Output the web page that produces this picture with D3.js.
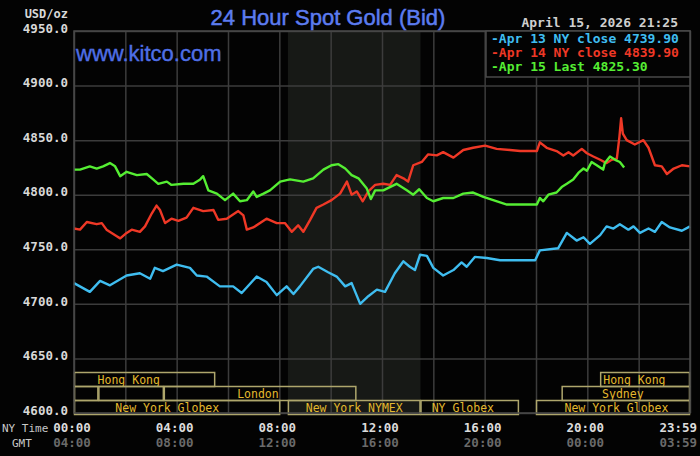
<!DOCTYPE html>
<html>
<head>
<meta charset="utf-8">
<script src="https://cdn.jsdelivr.net/npm/d3@7"></script>
<style>
  body { margin: 0; background: #000; }
  svg { display: block; }
</style>
</head>
<body>
<svg id="drawing_region"></svg>
<script>
// minutes after NY midnight, price in USD/oz
const apr13 = [[0,4719],[37,4711],[61,4721],[84,4717],[123,4726],[154,4728],[178,4723],[189,4733],[208,4730],[240,4736],[271,4733],[287,4726],[310,4725],[341,4716],[372,4716],[392,4710],[427,4725],[450,4720],[474,4708],[497,4716],[513,4709],[528,4716],[559,4732],[571,4734],[594,4729],[614,4725],[634,4716],[649,4719],[669,4700],[688,4707],[708,4713],[727,4711],[750,4728],[770,4739],[785,4734],[797,4731],[809,4745],[825,4744],[840,4733],[863,4726],[887,4731],[906,4738],[918,4734],[937,4743],[965,4742],[996,4740],[1027,4740],[1078,4740],[1089,4749],[1132,4751],[1152,4765],[1175,4758],[1191,4761],[1206,4755],[1230,4763],[1245,4771],[1261,4769],[1276,4773],[1296,4768],[1308,4771],[1323,4765],[1343,4769],[1358,4766],[1374,4775],[1393,4770],[1421,4767],[1440,4771]];

const apr14 = [[0,4769],[14,4768],[30,4775],[53,4773],[65,4774],[76,4768],[100,4762],[108,4760],[123,4765],[135,4768],[154,4766],[166,4771],[182,4783],[193,4790],[201,4786],[213,4774],[228,4778],[244,4776],[263,4779],[279,4788],[302,4785],[326,4786],[337,4777],[357,4778],[384,4785],[396,4781],[404,4768],[419,4770],[450,4778],[474,4774],[493,4774],[509,4766],[524,4772],[536,4766],[552,4777],[567,4788],[583,4791],[602,4795],[622,4801],[638,4812],[649,4800],[661,4803],[675,4794],[688,4803],[704,4809],[723,4810],[739,4809],[754,4818],[770,4815],[781,4812],[793,4827],[813,4830],[828,4837],[848,4836],[863,4839],[887,4834],[910,4841],[933,4843],[961,4845],[988,4842],[1019,4841],[1043,4840],[1082,4840],[1089,4848],[1105,4843],[1128,4840],[1144,4836],[1156,4839],[1167,4836],[1187,4842],[1199,4838],[1214,4835],[1230,4832],[1245,4829],[1257,4832],[1269,4833],[1275,4853],[1279,4870],[1283,4856],[1292,4850],[1311,4846],[1331,4850],[1343,4843],[1358,4827],[1374,4826],[1386,4819],[1402,4824],[1421,4827],[1440,4826]];

const apr15 = [[0,4823],[14,4823],[37,4826],[53,4824],[68,4826],[84,4829],[96,4826],[108,4817],[123,4821],[147,4818],[170,4819],[185,4814],[197,4810],[217,4812],[228,4809],[256,4810],[279,4810],[295,4814],[302,4817],[314,4804],[334,4801],[353,4795],[372,4801],[388,4794],[404,4795],[419,4803],[427,4798],[443,4801],[458,4804],[482,4812],[505,4814],[536,4812],[559,4815],[583,4823],[602,4827],[618,4828],[634,4824],[649,4818],[665,4815],[684,4806],[694,4796],[704,4804],[723,4804],[754,4810],[778,4804],[793,4800],[807,4805],[825,4797],[840,4794],[863,4797],[887,4797],[910,4801],[933,4802],[957,4798],[980,4795],[1012,4791],[1043,4791],[1082,4791],[1089,4797],[1097,4794],[1109,4800],[1128,4802],[1140,4807],[1152,4810],[1167,4814],[1179,4820],[1191,4824],[1199,4822],[1210,4830],[1222,4827],[1237,4823],[1241,4829],[1253,4835],[1265,4832],[1276,4830],[1286,4825]];

const legendLabels = ["Apr 13 NY close 4739.90", "Apr 14 NY close 4839.90", "Apr 15 Last 4825.30"];
const yTicks = [4600, 4650, 4700, 4750, 4800, 4850, 4900, 4950];
const gridMinutes = d3.range(0, 1441, 120);
const nyLabels = [[0,"00:00"],[240,"04:00"],[480,"08:00"],[720,"12:00"],[960,"16:00"],[1200,"20:00"],[1439,"23:59"]];
const gmtLabels = ["04:00","08:00","12:00","16:00","20:00","00:00","03:59"];

// trading sessions: [row, start, end, label, label centre]
const sessions = [
  [0, 0, 330, "Hong Kong", 128],
  [0, 1230, 1440, "Hong Kong", 1310],
  [1, 0, 57, "", 0],
  [1, 57, 210, "", 0],
  [1, 210, 660, "London", 430],
  [1, 1140, 1440, "Sydney", 1283],
  [2, 0, 482, "New York Globex", 218],
  [2, 500, 810, "New York NYMEX", 655],
  [2, 810, 1040, "NY Globex", 909],
  [2, 1080, 1440, "New York Globex", 1268]
];
const nymexFloor = [500, 810];

const config = {
  width: 700, height: 456,
  margin: {top: 31, right: 10, bottom: 43, left: 74}
};
const colors = ["#3fbdf0", "#ef3826", "#55ee33"];
const mono = "'DejaVu Sans Mono', monospace";

const svg = d3.select('#drawing_region')
  .attr('width', config.width)
  .attr('height', config.height);

svg.append('rect').attr('width', config.width).attr('height', config.height).attr('fill', '#030303');

const inner_width = config.width - config.margin.left - config.margin.right;
const inner_height = config.height - config.margin.top - config.margin.bottom;

const chart = svg.append('g')
  .attr('transform', `translate(${config.margin.left}, ${config.margin.top})`);

const xscale = d3.scaleLinear().domain([0, 1440]).range([0, inner_width]);
const yscale = d3.scaleLinear().domain([4600, 4950]).range([inner_height, 0]);

// NYMEX floor hours shading
chart.append('rect')
  .attr('x', xscale(nymexFloor[0]))
  .attr('width', xscale(nymexFloor[1]) - xscale(nymexFloor[0]))
  .attr('y', 0).attr('height', inner_height)
  .attr('fill', '#171916');

// grid
const xgrid = chart.append('g')
  .call(d3.axisBottom(xscale).tickValues(gridMinutes).tickSize(inner_height).tickFormat(''));
const ygrid = chart.append('g')
  .call(d3.axisLeft(yscale).tickValues(yTicks).tickSize(-inner_width).tickFormat(''));
[xgrid, ygrid].forEach(g => {
  g.select('.domain').remove();
  g.selectAll('.tick line').attr('stroke', '#3c3c3c').attr('stroke-width', 1.5);
});

// y labels
const yaxis = svg.append('g')
  .attr('transform', `translate(${config.margin.left}, ${config.margin.top})`)
  .call(d3.axisLeft(yscale).tickValues(yTicks).tickSize(0).tickPadding(6).tickFormat(d3.format('.1f')));
yaxis.select('.domain').remove();
yaxis.selectAll('text')
  .attr('fill', '#d8d8d8').attr('font-family', mono).attr('font-weight', 'bold')
  .attr('font-size', '12.5px').attr('dy', '0.1em');

// session boxes
const rowTop = [341, 355, 369];
const rowH = 14;
sessions.forEach(s => {
  chart.append('rect')
    .attr('x', xscale(s[1]) + 0.5)
    .attr('y', rowTop[s[0]] + 0.5)
    .attr('width', xscale(s[2]) - xscale(s[1]) - 1)
    .attr('height', rowH)
    .attr('fill', 'none')
    .attr('stroke', '#aea66c')
    .attr('stroke-width', 1.5);
  if (s[3]) {
    chart.append('text')
      .attr('x', xscale(s[4]))
      .attr('y', rowTop[s[0]] + 11.5)
      .attr('text-anchor', 'middle')
      .attr('fill', '#e3b92e')
      .attr('font-family', mono)
      .attr('font-size', '11.5px')
      .text(s[3]);
  }
});

// price lines
const line = d3.line()
  .x(d => xscale(d[0]))
  .y(d => yscale(d[1]));

[apr13, apr14, apr15].forEach((series, i) => {
  chart.append('path')
    .attr('d', line(series))
    .attr('fill', 'none')
    .attr('stroke', colors[i])
    .attr('stroke-width', 2.4)
    .attr('stroke-linejoin', 'round');
});

// frame
chart.append('rect')
  .attr('width', inner_width).attr('height', inner_height)
  .attr('fill', 'none').attr('stroke', '#4a4a4a').attr('stroke-width', 1.5);

// legend
const legend = svg.append('g').attr('transform', 'translate(486, 31)');
legend.append('rect')
  .attr('width', 204).attr('height', 46)
  .attr('fill', '#030303').attr('stroke', '#4a4a4a').attr('stroke-width', 1.5);
legendLabels.forEach((t, i) => {
  legend.append('text')
    .attr('x', 5).attr('y', 12 + i * 14)
    .attr('fill', colors[i])
    .attr('font-family', mono).attr('font-weight', 'bold').attr('font-size', '13px')
    .text('-' + t);
});

// time labels
nyLabels.forEach((d, i) => {
  const tx = config.margin.left - 2 + xscale(d[0]) * (d[0] === 1439 ? 0.985 : 1);
  svg.append('text')
    .attr('x', tx).attr('y', 432)
    .attr('text-anchor', 'middle')
    .attr('fill', '#dcdcdc').attr('font-family', mono).attr('font-weight', 'bold').attr('font-size', '12.5px')
    .text(d[1]);
  svg.append('text')
    .attr('x', tx).attr('y', 447)
    .attr('text-anchor', 'middle')
    .attr('fill', '#6a6a6a').attr('font-family', mono).attr('font-weight', 'bold').attr('font-size', '12.5px')
    .text(gmtLabels[i]);
});

svg.append('text').attr('x', 2).attr('y', 432)
  .attr('fill', '#c8c8c8').attr('font-family', mono).attr('font-size', '11px').text('NY Time');
svg.append('text').attr('x', 12).attr('y', 447)
  .attr('fill', '#c8c8c8').attr('font-family', mono).attr('font-size', '11px').text('GMT');

svg.append('text').attr('x', 68).attr('y', 18).attr('text-anchor', 'end')
  .attr('fill', '#d8d8d8').attr('font-family', mono).attr('font-weight', 'bold').attr('font-size', '12px')
  .text('USD/oz');

// titles
svg.append('text')
  .attr('x', 328).attr('y', 25)
  .attr('text-anchor', 'middle')
  .attr('fill', '#5c7cf0').attr('stroke', '#5c7cf0').attr('stroke-width', 0.5)
  .attr('font-family', "'Liberation Sans', Arial, sans-serif")
  .attr('font-size', '22px')
  .text('24 Hour Spot Gold (Bid)');

svg.append('text')
  .attr('x', 76).attr('y', 61)
  .attr('fill', '#4f6fe6').attr('stroke', '#4f6fe6').attr('stroke-width', 0.4)
  .attr('font-family', "'Liberation Sans', Arial, sans-serif")
  .attr('font-size', '22px')
  .text('www.kitco.com');

svg.append('text')
  .attr('x', 678).attr('y', 27)
  .attr('text-anchor', 'end')
  .attr('fill', '#cfcfcf')
  .attr('font-family', mono).attr('font-weight', 'bold').attr('font-size', '13px')
  .text('April 15, 2026 21:25');
</script>
</body>
</html>
